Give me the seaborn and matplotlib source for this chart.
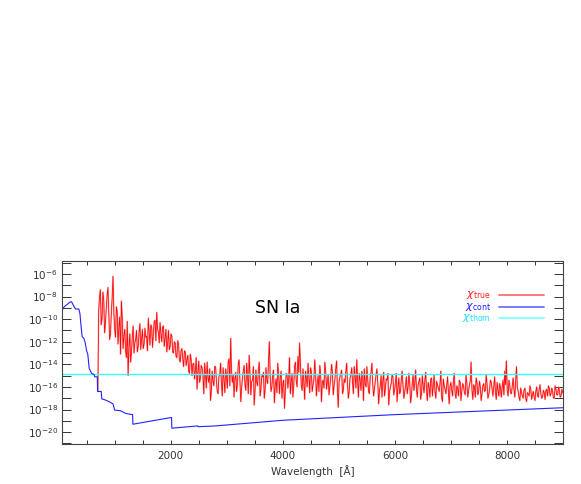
import numpy as np
import pandas as pd
import matplotlib
matplotlib.use("Agg")
import matplotlib.pyplot as plt
import seaborn as sns
from matplotlib.ticker import FixedLocator, FuncFormatter

# ---------------- data (log10 values) ----------------
blue_wave = [60, 100, 150, 200, 230, 260, 300, 360, 380, 400, 420, 450, 470, 500,
             520, 545, 590, 630, 645, 690, 695, 760, 770, 830, 900, 970, 1000,
             1100, 1200, 1320, 1325, 2015, 2020, 2480, 2485, 2800, 4000, 6000, 9000]
blue_log = [-9.2, -8.9, -8.7, -8.5, -8.45, -8.75, -9.1, -9.1, -9.5, -10.6, -11.55,
            -11.7, -12.0, -12.8, -13.1, -14.35, -14.8, -14.9, -15.1, -15.1, -16.4,
            -16.4, -17.05, -17.15, -17.3, -17.5, -18.05, -18.1, -18.35, -18.45,
            -19.3, -18.7, -19.65, -19.45, -19.52, -19.45, -18.95, -18.45, -17.84]

# red spectrum, sampled every 30 A starting at 700 A (set A) and at 715 A (set B)
red_start_a, red_start_b, red_step = 700, 715, 30
red_log_a = [
    -16.4, -8.0, -10.5, -7.6, -11.2, -9.0, -7.2, -11.8, -9.5, -6.2,
    -10.8, -8.9, -12.2, -9.8, -8.4, -12.6, -10.9, -13.4, -15.0, -11.3,
    -12.9, -10.6, -12.1, -11.0, -12.4, -10.4, -11.8, -12.6, -10.8, -11.5,
    -9.9, -12.3, -10.7, -11.4, -10.1, -9.4, -11.2, -10.3, -12.0, -10.6,
    -11.7, -12.9, -11.0, -12.4, -11.5, -13.0, -12.1, -13.4, -12.2, -13.8,
    -12.6, -14.2, -12.9, -13.6, -14.6, -13.1, -15.0, -13.9, -14.5, -16.2,
    -13.7, -15.2, -14.3, -16.6, -14.8, -13.8, -15.6, -17.2, -14.6, -15.9,
    -14.2, -16.4, -15.1, -13.9, -16.8, -15.3, -14.4, -16.1, -13.5, -11.7,
    -15.6, -16.9, -14.7, -15.8, -13.6, -17.3, -15.2, -14.1, -16.3, -15.0,
    -13.2, -16.7, -15.4, -17.6, -14.5, -15.9, -13.8, -16.2, -15.1, -17.0,
    -14.3, -15.7, -12.0, -16.4, -14.9, -17.4, -15.3, -13.9, -16.6, -14.6,
    -15.8, -17.9, -14.8, -16.1, -13.4, -15.6, -16.9, -14.2, -15.5, -13.3,
    -12.1, -15.9, -14.4, -17.1, -15.2, -13.9, -16.5, -14.7, -15.8, -13.6,
    -16.8, -15.0, -14.1, -17.3, -15.4, -13.8, -16.2, -14.9, -15.9, -14.0,
    -16.7, -15.3, -13.7, -17.8, -15.1, -14.5, -16.3, -15.6, -13.9, -17.0,
    -15.2, -14.3, -16.6, -15.0, -13.6, -16.9, -15.4, -14.6, -17.2, -15.7,
    -14.2, -16.4, -15.1, -13.9, -16.8, -15.5, -14.4, -17.5, -15.8, -16.9,
    -14.7, -16.2, -15.4, -17.6, -16.0, -14.9, -16.7, -15.6, -17.3, -15.2,
    -16.4, -14.6, -17.0, -15.9, -16.6, -14.8, -17.4, -15.7, -16.3, -14.5,
    -16.9, -15.5, -17.1, -15.0, -16.5, -14.7, -17.2, -16.0, -15.3, -16.8,
    -14.9, -17.0, -15.8, -16.4, -14.6, -17.3, -15.9, -16.6, -15.1, -17.5,
    -15.6, -16.8, -14.8, -17.0, -16.1, -15.4, -17.2, -15.7, -16.5, -14.9,
    -16.9, -15.8, -13.8, -17.1, -16.0, -15.2, -16.7, -15.5, -17.2, -15.9,
    -16.4, -14.9, -17.0, -16.2, -15.6, -16.8, -15.1, -17.1, -16.3, -15.7,
    -16.9, -15.4, -14.6, -13.7, -16.8, -15.9, -16.6, -15.2, -16.9, -14.2,
    -16.4, -17.2, -16.5, -17.0, -16.1, -17.3, -16.6, -15.9, -17.1, -16.4,
    -17.2, -16.0, -16.9, -15.8, -17.0, -16.3, -17.1, -16.2, -15.9, -16.8,
    -16.1, -17.0, -15.9, -16.7, -16.0, -16.9, -16.2, -16.6,
]
red_log_b = [
    -9.2, -7.4, -9.9, -8.3, -10.4, -7.9, -9.6, -11.3, -8.1, -9.4,
    -11.6, -9.3, -10.7, -13.1, -9.9, -11.4, -12.8, -10.2, -12.4, -13.8,
    -11.5, -13.0, -11.8, -12.9, -11.2, -12.7, -10.9, -12.2, -11.6, -12.8,
    -11.1, -10.5, -12.5, -10.2, -11.9, -10.8, -12.1, -11.3, -10.7, -12.4,
    -10.9, -12.1, -12.7, -11.3, -12.9, -12.0, -13.3, -11.9, -13.6, -12.8,
    -13.5, -12.8, -14.1, -13.2, -14.8, -13.6, -14.0, -15.3, -13.4, -14.7,
    -15.6, -14.1, -15.0, -13.9, -16.1, -15.2, -14.4, -16.3, -15.5, -14.2,
    -15.4, -16.6, -14.9, -15.7, -14.3, -16.5, -15.0, -13.8, -15.9, -14.6,
    -14.9, -15.3, -16.4, -14.0, -15.5, -16.1, -14.6, -15.8, -13.9, -16.6,
    -14.8, -15.5, -14.2, -16.3, -15.6, -14.4, -16.8, -15.0, -14.7, -16.2,
    -15.4, -13.7, -15.1, -16.0, -14.5, -15.9, -16.5, -14.8, -15.2, -17.0,
    -15.4, -16.3, -14.9, -15.3, -16.6, -14.8, -15.9, -13.8, -16.0, -14.7,
    -14.1, -16.3, -15.6, -14.6, -16.0, -15.1, -14.3, -16.4, -15.3, -14.9,
    -15.7, -16.4, -14.8, -15.6, -16.1, -14.6, -15.5, -16.7, -15.2, -14.7,
    -15.9, -14.4, -16.2, -15.5, -14.8, -16.6, -15.3, -14.6, -15.8, -16.4,
    -14.9, -15.6, -14.2, -16.1, -15.4, -14.8, -16.3, -15.1, -14.4, -16.0,
    -15.3, -16.6, -14.7, -15.8, -16.2, -14.9, -15.6, -16.4, -15.0, -15.5,
    -16.8, -15.3, -14.8, -16.4, -15.7, -15.1, -16.3, -14.8, -16.0, -16.6,
    -15.3, -15.9, -16.5, -15.1, -16.0, -15.6, -16.8, -14.9, -15.7, -16.2,
    -15.8, -15.2, -16.6, -15.9, -15.4, -16.3, -15.6, -16.9, -15.2, -15.8,
    -16.4, -15.5, -16.1, -15.7, -16.9, -15.3, -16.2, -15.8, -16.4, -15.9,
    -16.3, -15.4, -16.6, -15.9, -16.8, -15.6, -16.3, -15.9, -16.7, -15.7,
    -16.4, -15.5, -16.2, -15.8, -16.9, -15.6, -16.4, -16.0, -16.6, -15.7,
    -16.3, -15.8, -16.7, -15.4, -16.2, -15.9, -16.5, -15.6, -16.8, -16.1,
    -16.0, -16.7, -15.8, -16.3, -15.4, -16.5, -15.9, -16.2, -15.6, -16.0,
    -16.9, -16.1, -16.8, -16.3, -17.0, -16.5, -16.8, -16.2, -16.7, -16.9,
    -16.4, -16.8, -16.2, -16.6, -16.9, -16.5, -16.3, -16.8, -16.1, -16.6,
    -16.4, -16.9, -16.2, -16.7, -16.3, -16.8, -16.5,
]
thom_log = -14.88

x_limits = (60, 9000)
y_limits_log = (-21.05, -4.85)
y_tick_exps = list(range(-21, -4))
x_ticks = list(range(500, 9001, 500))

# ---------------- build frames ----------------
wave_a = red_start_a + red_step * np.arange(len(red_log_a))
wave_b = red_start_b + red_step * np.arange(len(red_log_b))
df_red = pd.DataFrame({"wave": np.concatenate([wave_a, wave_b]),
                       "flux": 10.0 ** np.concatenate([red_log_a, red_log_b])})
df_red = df_red.sort_values("wave").reset_index(drop=True)
df_blue = pd.DataFrame({"wave": blue_wave, "flux": 10.0 ** np.array(blue_log)})
df_thom = pd.DataFrame({"wave": list(x_limits), "flux": [10.0 ** thom_log] * 2})

sns.set_style("ticks")
plt.rcParams["font.family"] = ["DejaVu Sans"]

fig = plt.figure(figsize=(5.81, 4.84), dpi=100)
ax = fig.add_axes([62 / 581, 1 - 444 / 484, 501 / 581, 183 / 484])

sns.lineplot(data=df_red, x="wave", y="flux", ax=ax, color="#ff8888",
             lw=1.2, alpha=0.6, sort=False, estimator=None)
sns.lineplot(data=df_red, x="wave", y="flux", ax=ax, color="#ff0000",
             lw=0.55, sort=False, estimator=None)
sns.lineplot(data=df_thom, x="wave", y="flux", ax=ax, color="#33ffff",
             lw=1.0, sort=False, estimator=None)
sns.lineplot(data=df_blue, x="wave", y="flux", ax=ax, color="#2222ff",
             lw=0.8, sort=False, estimator=None)

ax.set_yscale("log")
ax.set_xlim(*x_limits)
ax.set_ylim(10.0 ** y_limits_log[0], 10.0 ** y_limits_log[1])

ax.yaxis.set_major_locator(FixedLocator([10.0 ** e for e in y_tick_exps]))
ax.yaxis.set_minor_locator(FixedLocator([]))
ax.yaxis.set_major_formatter(FuncFormatter(
    lambda v, p: (r"$10^{%d}$" % round(np.log10(v))) if round(np.log10(v)) % 2 == 0 else ""))
ax.xaxis.set_major_locator(FixedLocator(x_ticks))
ax.xaxis.set_major_formatter(FuncFormatter(
    lambda v, p: ("%d" % v) if v % 2000 == 0 and v < 9000 else ""))

ax.tick_params(axis="y", which="major", direction="in", length=6.5, width=0.7,
               left=True, right=True, labelsize=7.5, colors="#333333", pad=3)
ax.tick_params(axis="x", which="major", direction="in", length=3, width=0.7,
               bottom=True, top=True, labelsize=7.5, colors="#333333", pad=5)
for s in ax.spines.values():
    s.set_visible(True)
    s.set_color("#444444")
    s.set_linewidth(0.8)

ax.set_xlabel("Wavelength  [Å]", fontsize=7.5, color="#333333", labelpad=3)
ax.set_ylabel("")

ax.text(3900, 10.0 ** -9.0, "SN Ia", fontsize=12.5, ha="center", va="center",
        color="black")

# legend (label right-aligned, line to the right)
leg_items = [(r"$\chi_{\rm true}$", "#ff2020", "#ff7070", 0.814),
             (r"$\chi_{\rm cont}$", "#2020ff", "#7070ff", 0.750),
             (r"$\chi_{\rm thom}$", "#20e0ff", "#80ffff", 0.687)]
for lab, tcol, lcol, yy in leg_items:
    ax.text(0.856, yy, lab, transform=ax.transAxes, ha="right", va="center",
            fontsize=8, color=tcol)
    ax.plot([0.872, 0.962], [yy, yy], transform=ax.transAxes, color=lcol, lw=1.3)

fig.savefig("out.png", dpi=100)
